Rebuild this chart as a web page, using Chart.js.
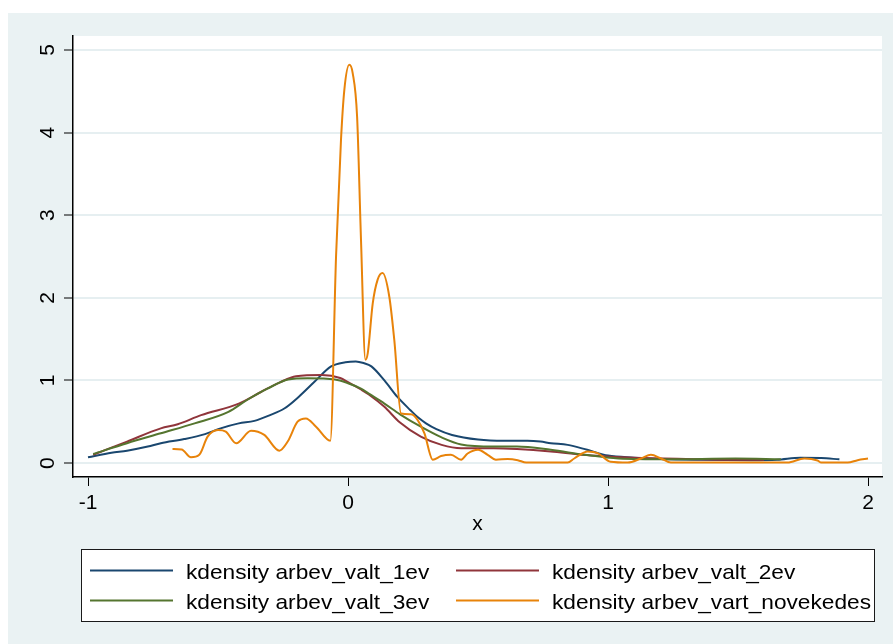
<!DOCTYPE html>
<html>
<head>
<meta charset="utf-8">
<script src="https://cdn.jsdelivr.net/npm/chart.js@4.4.0/dist/chart.umd.min.js"></script>
<style>
  html, body { margin: 0; padding: 0; background: #fff; }
  canvas { display: block; }
</style>
</head>
<body>
<canvas id="chart" width="893" height="644" style="width:893px;height:644px"></canvas>
<script>
// --- data ---
const seriesLabels = [
    'kdensity arbev_valt_1ev',
    'kdensity arbev_valt_2ev',
    'kdensity arbev_valt_3ev',
    'kdensity arbev_vart_novekedes'
];
const seriesColors = ['#1a476f', '#90353b', '#55752f', '#e8830a'];

const xTickValues = [-1, 0, 1, 2];
const yTickValues = [0, 1, 2, 3, 4, 5];
const xTitle = 'x';

const x1ev = [-1, -0.91, -0.85, -0.77, -0.72, -0.63, -0.55, -0.49, -0.42, -0.36, -0.30, -0.245, -0.19, -0.13, -0.065, -0.01, 0.03, 0.06, 0.09, 0.14, 0.19, 0.24, 0.27, 0.30, 0.34, 0.40, 0.50, 0.60, 0.69, 0.74, 0.78, 0.845, 0.92, 1.0, 1.10, 1.2, 1.36, 1.55, 1.65, 1.74, 1.82, 1.89];
const y1ev = [0.07, 0.125, 0.15, 0.20, 0.24, 0.29, 0.35, 0.42, 0.48, 0.51, 0.58, 0.66, 0.80, 0.98, 1.17, 1.22, 1.23, 1.21, 1.17, 1.00, 0.80, 0.64, 0.55, 0.48, 0.41, 0.34, 0.285, 0.27, 0.27, 0.26, 0.24, 0.22, 0.16, 0.09, 0.065, 0.05, 0.04, 0.035, 0.04, 0.065, 0.06, 0.045];

const x2ev = [-0.98, -0.85, -0.72, -0.655, -0.565, -0.42, -0.335, -0.26, -0.20, -0.10, -0.03, 0, 0.05, 0.08, 0.14, 0.20, 0.28, 0.36, 0.435, 0.56, 0.65, 0.78, 0.9, 1.0, 1.1, 1.3, 1.5, 1.6];
const y2ev = [0.10, 0.26, 0.42, 0.47, 0.58, 0.72, 0.86, 0.98, 1.05, 1.065, 1.03, 0.98, 0.89, 0.83, 0.68, 0.49, 0.32, 0.22, 0.18, 0.18, 0.17, 0.14, 0.10, 0.08, 0.065, 0.05, 0.04, 0.04];

const x3ev = [-0.98, -0.85, -0.72, -0.59, -0.46, -0.39, -0.31, -0.23, -0.155, -0.05, 0, 0.05, 0.08, 0.14, 0.20, 0.28, 0.36, 0.435, 0.56, 0.65, 0.78, 0.91, 1.04, 1.23, 1.49, 1.665];
const y3ev = [0.11, 0.24, 0.36, 0.48, 0.62, 0.76, 0.90, 1.01, 1.025, 1.01, 0.965, 0.90, 0.84, 0.72, 0.59, 0.44, 0.31, 0.225, 0.20, 0.20, 0.16, 0.10, 0.055, 0.045, 0.055, 0.045];

const xNov = [-0.675, -0.64, -0.604, -0.572, -0.54, -0.50, -0.47, -0.43, -0.373, -0.322, -0.264, -0.232, -0.194, -0.162, -0.123, -0.068, -0.046, -0.027, -0.014, 0.005, 0.018, 0.035, 0.05, 0.067, 0.076, 0.095, 0.114, 0.133, 0.159, 0.178, 0.204, 0.242, 0.268, 0.294, 0.326, 0.358, 0.396, 0.435, 0.46, 0.50, 0.537, 0.569, 0.614, 0.653, 0.685, 0.845, 0.87, 0.922, 0.96, 1.01, 1.076, 1.127, 1.165, 1.204, 1.242, 1.69, 1.755, 1.806, 1.82, 1.922, 1.96, 2.0];
const yNov = [0.17, 0.165, 0.07, 0.10, 0.32, 0.40, 0.38, 0.24, 0.39, 0.34, 0.15, 0.26, 0.50, 0.54, 0.44, 0.27, 2.50, 3.91, 4.52, 4.82, 4.72, 4.19, 2.70, 1.25, 1.33, 1.93, 2.22, 2.30, 2.01, 1.49, 0.60, 0.59, 0.52, 0.36, 0.04, 0.085, 0.10, 0.04, 0.115, 0.16, 0.10, 0.04, 0.05, 0.035, 0.005, 0.005, 0.055, 0.14, 0.12, 0.015, 0.005, 0.055, 0.10, 0.055, 0.005, 0.005, 0.055, 0.03, 0.005, 0.005, 0.035, 0.055];

const seriesX = [x1ev, x2ev, x3ev, xNov];
const seriesY = [y1ev, y2ev, y3ev, yNov];

// --- look ---
const FONT = 'Liberation Sans, Arial, Helvetica, sans-serif';
const regionColor = '#eaf2f3';
const gridColor = '#e6eff1';

const toPoints = (xs, ys) => xs.map((x, i) => ({ x: x, y: ys[i] }));

const datasets = seriesLabels.map((label, i) => ({
    label: label,
    data: toPoints(seriesX[i], seriesY[i]),
    borderColor: seriesColors[i],
    backgroundColor: seriesColors[i],
    borderWidth: 2,
    pointRadius: 0,
    fill: false,
    cubicInterpolationMode: 'monotone',
    order: seriesLabels.length - i   // later series drawn on top, like Stata
}));

/* --- background: white margin, bluish graph region, white plot region --- */
const backgroundPlugin = {
    id: 'stataBackground',
    beforeDraw(chart) {
        const { ctx, chartArea } = chart;
        ctx.save();
        ctx.fillStyle = '#fff';
        ctx.fillRect(0, 0, chart.width, chart.height);
        ctx.fillStyle = regionColor;
        ctx.fillRect(8, 13, chart.width - 8, chart.height - 13);
        ctx.fillStyle = '#fff';
        ctx.fillRect(chartArea.left, chartArea.top, chartArea.right - chartArea.left, chartArea.bottom - chartArea.top);
        ctx.restore();
    }
};

/* --- rotated y tick labels (Stata draws them vertical) --- */
const yLabelPlugin = {
    id: 'yLabels',
    afterDraw(chart) {
        const { ctx } = chart;
        const yScale = chart.scales.y;
        ctx.save();
        ctx.fillStyle = '#000';
        ctx.font = '21px ' + FONT;
        ctx.textAlign = 'center';
        ctx.textBaseline = 'middle';
        yTickValues.forEach(v => {
            ctx.save();
            ctx.translate(48, yScale.getPixelForValue(v));
            ctx.rotate(-Math.PI / 2);
            ctx.fillText(String(v), 0, 0);
            ctx.restore();
        });
        ctx.restore();
    }
};

/* --- boxed two-column legend below the plot --- */
const legendPlugin = {
    id: 'boxLegend',
    afterDraw(chart) {
        const { ctx } = chart;
        const box = { left: 81, top: 549, right: 874, bottom: 621 };
        const cols = [90, 456];
        const rows = [570.5, 600.5];
        ctx.save();
        ctx.fillStyle = '#fff';
        ctx.fillRect(box.left, box.top, box.right - box.left, box.bottom - box.top);
        ctx.strokeStyle = '#1a1a1a';
        ctx.lineWidth = 1;
        ctx.strokeRect(box.left + 0.5, box.top + 0.5, box.right - box.left, box.bottom - box.top);

        ctx.font = '21px ' + FONT;
        ctx.textBaseline = 'alphabetic';
        ctx.textAlign = 'left';
        seriesLabels.forEach((label, i) => {
            const col = cols[i % 2];
            const row = rows[Math.floor(i / 2)];
            ctx.strokeStyle = seriesColors[i];
            ctx.lineWidth = 2;
            ctx.beginPath();
            ctx.moveTo(col, row);
            ctx.lineTo(col + 83, row);
            ctx.stroke();
            ctx.fillStyle = '#000';
            ctx.save();
            ctx.translate(col + 96, row + 8.5);
            ctx.scale(1.08, 1);
            ctx.fillText(label, 0, 0);
            ctx.restore();
        });
        ctx.restore();
    }
};

const chart = new Chart(document.getElementById('chart'), {
    type: 'line',
    data: { datasets: datasets },
    options: {
        responsive: false,
        animation: false,
        devicePixelRatio: 1,
        layout: { padding: { left: 8, top: 36, right: 11, bottom: 107 } },
        plugins: {
            legend: { display: false },
            tooltip: { enabled: false }
        },
        scales: {
            x: {
                type: 'linear',
                min: -1.0577,
                max: 2.0538,
                afterBuildTicks: s => { s.ticks = xTickValues.map(v => ({ value: v })); },
                afterFit: s => { s.height = 60; },
                grid: { drawOnChartArea: false, drawTicks: true, tickLength: 9, tickColor: '#000', tickWidth: 1 },
                border: { color: '#000', width: 1.5 },
                ticks: {
                    color: '#000',
                    padding: 5,
                    maxRotation: 0,
                    font: { family: FONT, size: 21 },
                    callback: v => String(v)
                },
                title: {
                    display: true,
                    text: xTitle,
                    color: '#000',
                    font: { family: FONT, size: 21 },
                    padding: { top: 0, bottom: 0 }
                }
            },
            y: {
                type: 'linear',
                min: -0.169,
                max: 5.169,
                afterBuildTicks: s => { s.ticks = yTickValues.map(v => ({ value: v })); },
                afterFit: s => { s.width = 65; },
                grid: { color: gridColor, lineWidth: 2, drawTicks: true, tickLength: 9, tickColor: '#000', tickWidth: 1 },
                border: { color: '#000', width: 1.5 },
                ticks: { display: false }
            }
        }
    },
    plugins: [backgroundPlugin, yLabelPlugin, legendPlugin]
});
</script>
</body>
</html>
